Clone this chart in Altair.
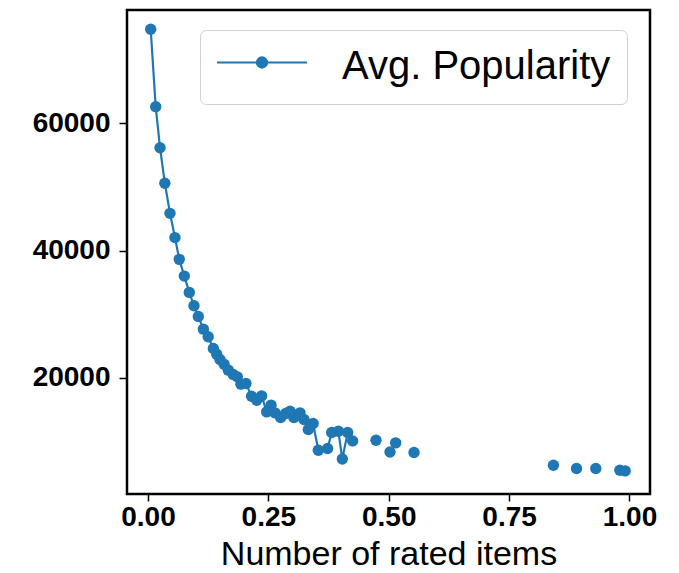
import altair as alt
import pandas as pd

# Data
rated_items = [0.0056, 0.016, 0.025, 0.035, 0.0457, 0.056, 0.065, 0.0754, 0.0858, 0.0955,
               0.1045, 0.115, 0.125, 0.1357, 0.1426, 0.1495, 0.158, 0.1668, 0.177, 0.1855,
               0.193, 0.2035, 0.215, 0.2257, 0.236, 0.2465, 0.2555, 0.264, 0.2755, 0.286,
               0.295, 0.303, 0.3157, 0.324, 0.333, 0.343, 0.3537, 0.373, 0.3815, 0.3953,
               0.4036, 0.4147, 0.425,
               0.4735, 0.5026, 0.5144, 0.5525, 0.842, 0.890, 0.930, 0.980, 0.991]
avg_popularity = [74780, 62610, 56160, 50570, 45850, 42040, 38620, 35990, 33430, 31320,
                  29650, 27660, 26450, 24620, 23730, 22890, 22150, 21210, 20530, 20160,
                  19010, 19120, 17120, 16490, 17170, 14650, 15710, 14500, 13770, 14400,
                  14760, 13770, 14500, 13460, 11890, 12830, 8630, 8900, 11420, 11620,
                  7260, 11420, 10090,
                  10200, 8360, 9780, 8270, 6270, 5750, 5750, 5490, 5380]
n_connected = 43  # points joined by the line; the rest are drawn as markers only
series_name = "Avg. Popularity"
x_ticks = [0.0, 0.25, 0.5, 0.75, 1.0]
y_ticks = [20000, 40000, 60000]

BLUE = "#1f77b4"
FONT = "Liberation Sans"

df = pd.DataFrame({"x": rated_items, "y": avg_popularity, "series": series_name})
df_line = df.iloc[:n_connected]

x_enc = alt.X("x:Q",
              scale=alt.Scale(domain=[-0.0436, 1.0426], nice=False, zero=False),
              axis=alt.Axis(values=x_ticks, format=".2f", title="Number of rated items",
                            labelFontSize=28, labelFontWeight="bold", labelFont=FONT,
                            titleFontSize=34, titleFontWeight="normal", titleFont=FONT,
                            titleColor="black", labelColor="black",
                            tickSize=7, tickWidth=1.5, tickColor="black",
                            labelPadding=2, titlePadding=6, domain=False, grid=False,
                            labelFlush=False))
y_enc = alt.Y("y:Q",
              scale=alt.Scale(domain=[1750, 77800], nice=False, zero=False),
              axis=alt.Axis(values=y_ticks, format="d", title=None,
                            labelFontSize=28, labelFontWeight="bold", labelFont=FONT,
                            labelColor="black",
                            tickSize=8, tickWidth=1.5, tickColor="black",
                            labelPadding=9, domain=False, grid=False))

legend_symbol = ("M-1,-0.1H1M-0.115,-0.1A0.115,0.115 0 1 0 0.115,-0.1"
                 "A0.115,0.115 0 1 0 -0.115,-0.1Z")
color_enc = alt.Color("series:N", scale=alt.Scale(range=[BLUE]),
                      legend=alt.Legend(title=None, orient="none", legendX=73, legendY=20,
                                        fillColor="white", strokeColor="#d0d0d0",
                                        cornerRadius=6, padding=16,
                                        labelFontSize=40, labelFont=FONT, labelColor="black",
                                        labelOffset=34, labelLimit=600,
                                        symbolType=legend_symbol, symbolSize=8100,
                                        symbolStrokeWidth=2, symbolFillColor=BLUE,
                                        symbolStrokeColor=BLUE, symbolOpacity=1,
                                        clipHeight=42))

line = alt.Chart(df_line).mark_line(strokeWidth=2.2).encode(x=x_enc, y=y_enc, color=color_enc)
points = alt.Chart(df).mark_point(filled=True, size=130, opacity=1).encode(
    x=x_enc, y=y_enc, color=color_enc)

chart = (line + points).properties(
    width=523, height=484,
    autosize=alt.AutoSizeParams(type="none"),
    padding={"left": 119, "top": 2, "right": 21, "bottom": 78},
    background="white",
).configure_view(stroke="black", strokeWidth=2.5)

chart.save("out.html", embed_options={"renderer": "svg", "actions": False})
